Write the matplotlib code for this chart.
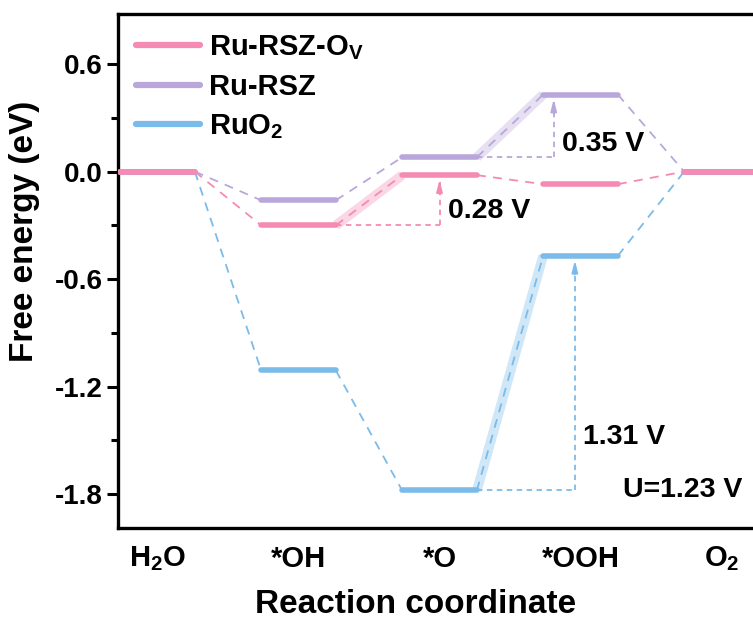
import numpy as np
import matplotlib.pyplot as plt

plt.rcParams['font.family'] = ['Liberation Sans', 'DejaVu Sans']
plt.rcParams['font.weight'] = 'bold'
plt.rcParams['mathtext.fontset'] = 'custom'
plt.rcParams['mathtext.rm'] = 'Liberation Sans:bold'
plt.rcParams['mathtext.it'] = 'Liberation Sans:bold'
plt.rcParams['mathtext.bf'] = 'Liberation Sans:bold'
plt.rcParams['mathtext.default'] = 'rm'

# reaction steps and free energies (eV)
steps = ['H$_2$O', '*OH', '*O', '*OOH', 'O$_2$']
g_ov = [0.0, -0.30, -0.02, -0.07, 0.0]
g_rsz = [0.0, -0.16, 0.08, 0.43, 0.0]
g_ruo2 = [0.0, -1.11, -1.78, -0.47, 0.0]

names = ['Ru-RSZ-O$_V$', 'Ru-RSZ', 'RuO$_2$']
colors = ['#F58BB2', '#B9A7DC', '#7BBBEA']
series = [g_ov, g_rsz, g_ruo2]

half = 0.265

fig = plt.figure(figsize=(7.53, 6.25), dpi=100)
ax = fig.add_axes([118 / 753, 97 / 625, 643 / 753, 514 / 625])

handles = []
# draw blue first, pink last (pink on top)
for g, c, name in reversed(list(zip(series, colors, names))):
    g = np.asarray(g)
    x = np.arange(len(g))
    for i in range(len(g)):
        h, = ax.plot([x[i] - half, x[i] + half], [g[i], g[i]], color=c, lw=4.0,
                     solid_capstyle='round', zorder=4)
    handles.append((h, name))
    diffs = np.diff(g)
    rds = int(np.argmax(diffs))
    for i in range(len(g) - 1):
        xs = [x[i] + half, x[i + 1] - half]
        ys = [g[i], g[i + 1]]
        ax.plot(xs, ys, color=c, lw=1.3, ls=(0, (5, 4)), zorder=3)
        if i == rds:
            ax.plot(xs, ys, color=c, lw=7, alpha=0.35, solid_capstyle='butt', zorder=2)

# limiting-step arrows
def step_arrow(g, i, xa, c):
    ax.plot([i + half, xa], [g[i], g[i]], color=c, lw=1.3, ls=(0, (3, 2.5)), zorder=3)
    ax.plot([xa, xa], [g[i], g[i + 1] - 0.04], color=c, lw=1.3, ls=(0, (3, 2.5)), zorder=3)
    ax.annotate('', xy=(xa, g[i + 1] - 0.01), xytext=(xa, g[i + 1] - 0.12),
                arrowprops=dict(arrowstyle='-|>,head_length=0.7,head_width=0.18',
                                color=c, lw=1.3), zorder=3)

step_arrow(g_ov, 1, 2.0, colors[0])
step_arrow(g_rsz, 2, 2.81, colors[1])
step_arrow(g_ruo2, 2, 2.96, colors[2])

fs = 20.5
ax.text(2.06, -0.22, '%.2f V' % (g_ov[2] - g_ov[1]), fontsize=fs, va='center', ha='left')
ax.text(2.87, 0.155, '%.2f V' % (g_rsz[3] - g_rsz[2]), fontsize=fs, va='center', ha='left')
ax.text(3.02, -1.48, '%.2f V' % (g_ruo2[3] - g_ruo2[2]), fontsize=fs, va='center', ha='left')
ax.text(3.30, -1.78, 'U=1.23 V', fontsize=fs, va='center', ha='left')

ax.set_xlim(-0.28, 4.28)
ax.set_ylim(-1.99, 0.88)
ax.set_xticks(range(len(steps)))
ax.set_xticklabels(steps, fontsize=21, fontweight='bold')
ax.tick_params(axis='x', length=0, pad=12)
ax.set_yticks([0.6, 0.0, -0.6, -1.2, -1.8])
ax.set_yticklabels(['0.6', '0.0', '-0.6', '-1.2', '-1.8'], fontsize=20, fontweight='bold')
ax.set_yticks([0.3, -0.3, -0.9, -1.5], minor=True)
ax.tick_params(axis='y', which='major', direction='out', length=8, width=2.2, pad=3)
ax.tick_params(axis='y', which='minor', direction='out', length=5, width=2.2)
for s in ax.spines.values():
    s.set_linewidth(2.4)

ax.set_xlabel('Reaction coordinate', fontsize=24, fontweight='bold')
ax.set_ylabel('Free energy (eV)', fontsize=24, fontweight='bold')
ax.xaxis.set_label_coords(0.463, -0.118)
ax.yaxis.set_label_coords(-0.122, 0.578)

hs = [h for h, n in reversed(handles)]
ns = [n for h, n in reversed(handles)]
leg = ax.legend(hs, ns, loc='upper left', bbox_to_anchor=(-0.008, 1.008), frameon=False,
                fontsize=21, handlelength=2.2, handletextpad=0.3, labelspacing=0.38,
                borderaxespad=0.4)
for t in leg.get_texts():
    t.set_fontweight('bold')
for l in leg.get_lines():
    l.set_linewidth(4.5)

fig.savefig('out.png', dpi=100)
